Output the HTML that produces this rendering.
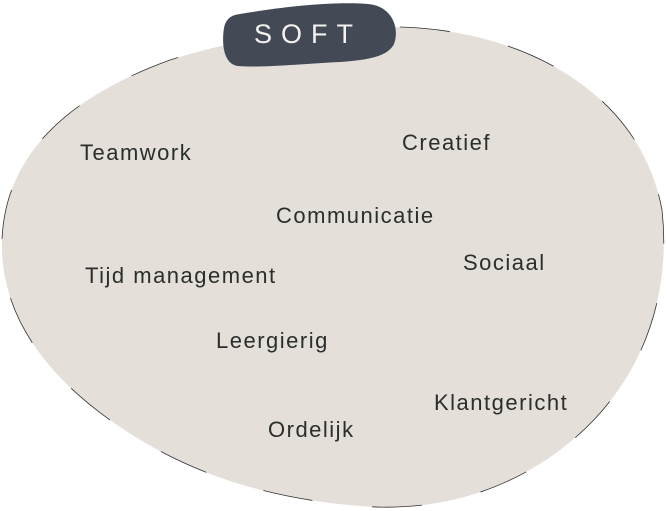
<!DOCTYPE html>
<html><head><style>
body{margin:0;width:667px;height:511px;background:#fff;overflow:hidden;position:relative;font-family:"Liberation Sans",sans-serif}
.t{position:absolute;font-size:22px;letter-spacing:1.5px;color:#2a2e2c;white-space:nowrap}
</style></head><body>
<svg width="667" height="511" style="position:absolute;left:0;top:0">
<path d="M400,27 C520,30 640,90 662,210 C672,300 640,390 560,450 C500,495 430,512 360,506 C260,498 180,470 110,420 C40,370 0,310 2,240 C5,160 60,100 170,60 C240,38 320,25 400,27 Z" fill="#e4dfd9" stroke="#333" stroke-width="0.8" stroke-dasharray="50 60"/>
<path d="M240,14 C300,4 340,2 368,4 C392,6 400,28 394,44 C388,56 370,60 340,62 C300,64 260,68 238,66 C222,64 222,40 224,28 C226,18 232,15 240,14 Z" fill="#434a55"/>
<text x="308" y="43" font-family="Liberation Sans" font-size="27" fill="#f4f2ee" letter-spacing="9" text-anchor="middle">SOFT</text>
</svg>
<div class="t" style="left:80px;top:140px">Teamwork</div>
<div class="t" style="left:402px;top:130px">Creatief</div>
<div class="t" style="left:276px;top:203px">Communicatie</div>
<div class="t" style="left:463px;top:250px">Sociaal</div>
<div class="t" style="left:85px;top:263px">Tijd management</div>
<div class="t" style="left:216px;top:328px">Leergierig</div>
<div class="t" style="left:434px;top:390px">Klantgericht</div>
<div class="t" style="left:268px;top:417px">Ordelijk</div>
</body></html>
